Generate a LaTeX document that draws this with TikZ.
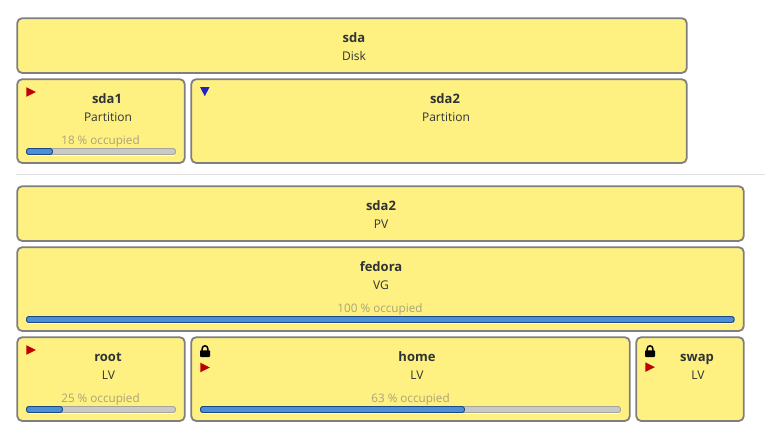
\documentclass[tikz,border=0pt]{standalone}
\usepackage{fontspec}
\setmainfont{Open Sans}
\definecolor{boxfill}{HTML}{FFF082}
\definecolor{boxline}{HTML}{7F7F7F}
\definecolor{txt}{HTML}{2E3436}
\definecolor{occ}{HTML}{A8A47A}
\definecolor{barbg}{HTML}{C9C9C6}
\definecolor{barln}{HTML}{A5A59C}
\definecolor{barfg}{HTML}{4A8FD8}
\definecolor{barfl}{HTML}{1C4A80}
\definecolor{redm}{HTML}{C00000}
\definecolor{blum}{HTML}{2222C0}
\tikzset{
 blk/.style={draw=boxline,fill=boxfill,line width=1.8pt,rounded corners=5pt,inner sep=0pt,anchor=north west},
 title/.style={text=txt,font=\fontsize{13}{15}\selectfont\bfseries,inner sep=0pt,anchor=base},
 sub/.style={text=txt,font=\fontsize{12}{14}\selectfont,inner sep=0pt},
 occtext/.style={text=occ,font=\fontsize{11.7}{14}\selectfont,inner sep=0pt},
 track/.style={draw=barln,fill=barbg,line width=.9pt,rounded corners=2.5pt},
 used/.style={draw=barfl,fill=barfg,line width=.9pt,rounded corners=2.5pt},
 shine/.style={draw=white,line width=.9pt},
 sep/.style={draw=black!12,line width=.8pt},
 redtri/.style={fill=redm},
 blutri/.style={fill=blum},
 lockbody/.style={fill=black,rounded corners=.8pt},
 lockbow/.style={draw=black,line width=1.5pt},
}
% x0, x1, x2, y
\newcommand{\usagebar}[4]{%
 \draw[shine] (#1+2,#4+7.2) -- (#3-2,#4+7.2);
 \path[track] (#1,#4) rectangle (#3,#4+6);
 \path[used] (#1,#4) rectangle (#2,#4+6);}
\newcommand{\redmark}[2]{\path[redtri] (#1,#2) -- (#1+9.5,#2+4.8) -- (#1,#2+9.6) -- cycle;}
\newcommand{\lockmark}[2]{%
 \path[lockbody] (#1,#2+5.3) rectangle (#1+10,#2+12);
 \draw[lockbow] (#1+2.2,#2+6) -- (#1+2.2,#2+3.6) arc[start angle=180,end angle=360,radius=2.8] -- (#1+7.8,#2+6);}
\begin{document}
\begin{tikzpicture}[x=1pt,y=-1pt]
\useasboundingbox (0,0) rectangle (765,444);
\fill[white] (0,0) rectangle (765,444);
% disk layout
\node[blk,minimum width=669.6pt,minimum height=54.8pt] (sda) at (16.3,17.3) {};
\node[title] (sdat) at (354,42.7) {sda};
\node[sub] (sdas) at (354,56) {Disk};
\node[blk,minimum width=167.6pt,minimum height=83.8pt] (sdaone) at (16.3,78.3) {};
\node[title] (sdaonet) at (107,103.2) {sda1};
\node[sub] (sdaones) at (108,117) {Partition};
\node[occtext] (sdaoneo) at (100.5,141) {18 \% occupied};
\usagebar{26.5}{52.5}{175.5}{148.5}
\redmark{26.3}{87.2}
\node[blk,minimum width=495.6pt,minimum height=83.8pt] (sdatwo) at (190.3,78.3) {};
\node[title] (sdatwot) at (445,103.2) {sda2};
\node[sub] (sdatwos) at (446,117) {Partition};
\path[blutri] (200,87) -- (209.6,87) -- (204.8,96.2) -- cycle;
\draw[sep] (16,174.5) -- (765,174.5);
% lvm layout
\node[blk,minimum width=726.6pt,minimum height=54.8pt] (pv) at (16.3,185.3) {};
\node[title] (pvt) at (381,210.2) {sda2};
\node[sub] (pvs) at (381,224) {PV};
\node[blk,minimum width=726.6pt,minimum height=83.8pt] (vg) at (16.3,246.3) {};
\node[title] (vgt) at (381,271.2) {fedora};
\node[sub] (vgs) at (381,285) {VG};
\node[occtext] (vgo) at (380,309) {100 \% occupied};
\usagebar{26.5}{734}{734.5}{316.5}
\node[blk,minimum width=167.6pt,minimum height=83.8pt] (root) at (16.3,336.3) {};
\node[title] (roott) at (108,361.2) {root};
\node[sub] (roots) at (108.5,375) {LV};
\node[occtext] (rooto) at (100.5,399) {25 \% occupied};
\usagebar{26.5}{62.5}{175.5}{406.5}
\redmark{26.3}{345.2}
\node[blk,minimum width=438.6pt,minimum height=83.8pt] (home) at (190.3,336.3) {};
\node[title] (homet) at (417,361.2) {home};
\node[sub] (homes) at (417,375) {LV};
\node[occtext] (homeo) at (410.5,399) {63 \% occupied};
\usagebar{200.5}{464.5}{620.5}{406.5}
\lockmark{200}{345}
\redmark{200.3}{362.7}
\node[blk,minimum width=107.6pt,minimum height=83.8pt] (swap) at (635.3,336.3) {};
\node[title] (swapt) at (697,361.2) {swap};
\node[sub] (swaps) at (698,375) {LV};
\lockmark{645}{345}
\redmark{645.3}{362.3}
\end{tikzpicture}
\end{document}
